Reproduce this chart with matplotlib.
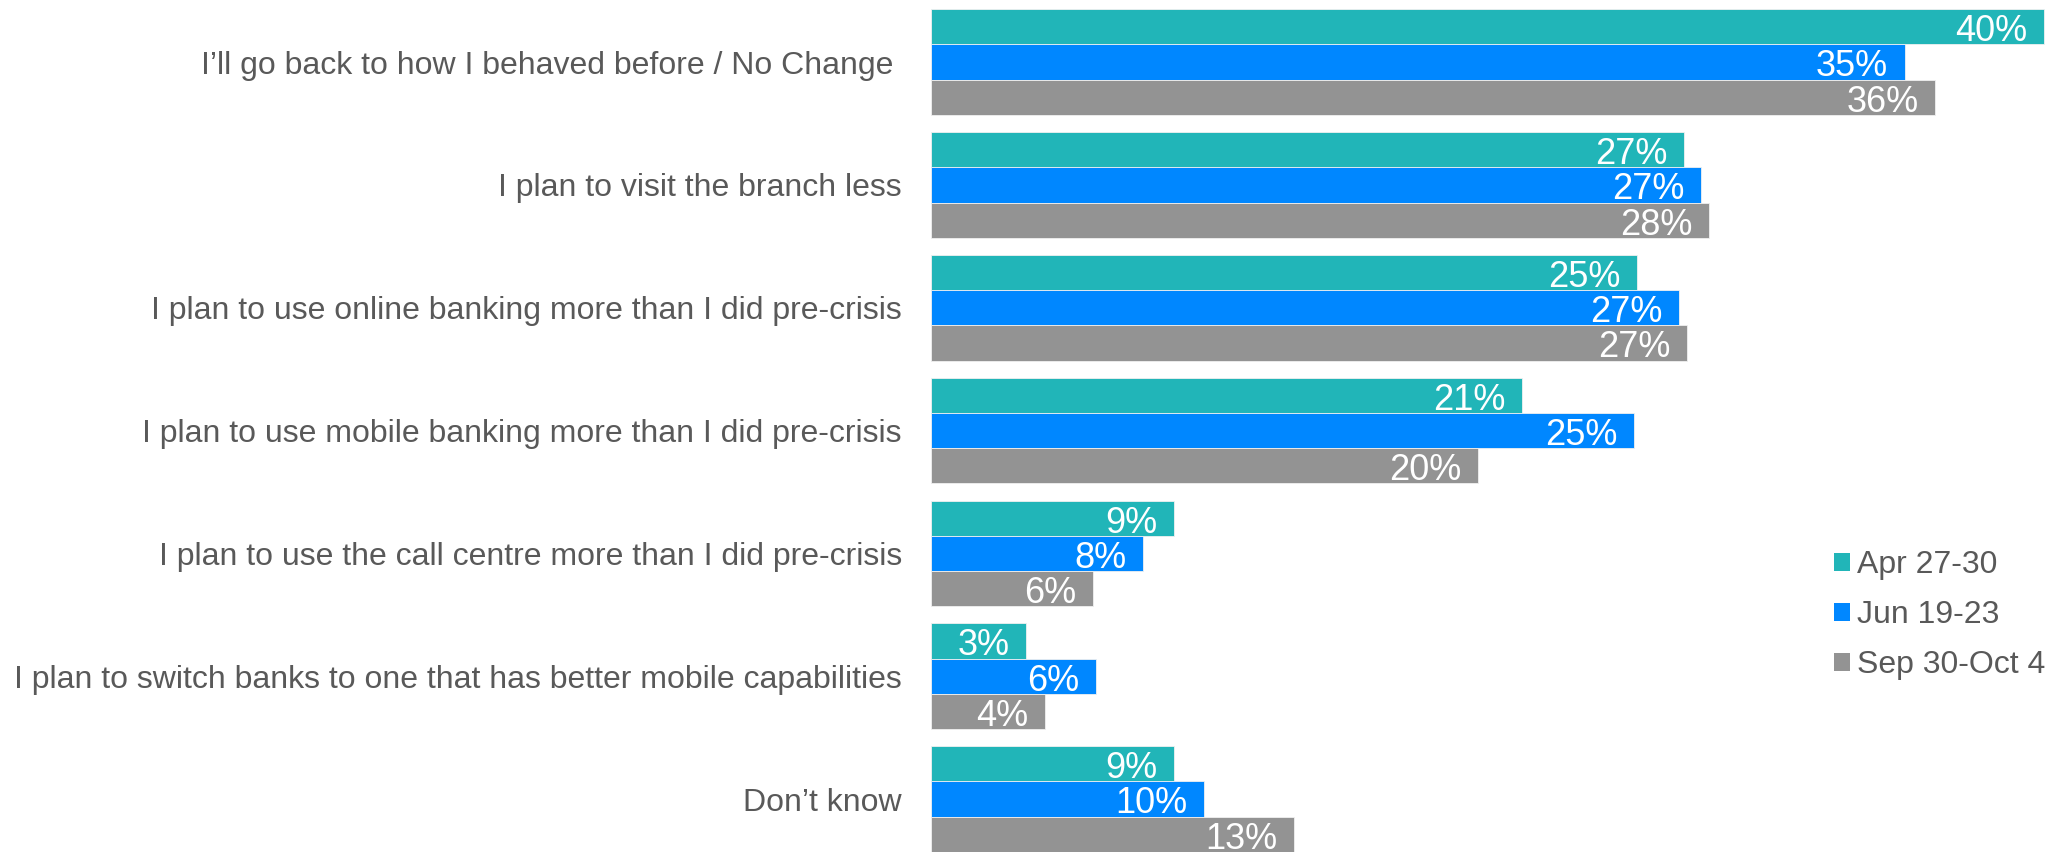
import matplotlib.pyplot as plt
from matplotlib.patches import Patch
import numpy as np

# Survey answers (top to bottom)
categories = [
    "I\u2019ll go back to how I behaved before / No Change ",
    "I plan to visit the branch less",
    "I plan to use online banking more than I did pre-crisis",
    "I plan to use mobile banking more than I did pre-crisis",
    "I plan to use the call centre more than I did pre-crisis",
    "I plan to switch banks to one that has better mobile capabilities",
    "Don\u2019t know",
]
series_names = ["Apr 27-30", "Jun 19-23", "Sep 30-Oct 4"]

# bar lengths (%)
apr_vals = [39.9, 27.0, 25.3, 21.2, 8.7, 3.4, 8.7]
jun_vals = [34.9, 27.6, 26.8, 25.2, 7.6, 5.9, 9.8]
sep_vals = [36.0, 27.9, 27.1, 19.6, 5.8, 4.1, 13.0]

# printed labels
apr_labels = ["40%", "27%", "25%", "21%", "9%", "3%", "9%"]
jun_labels = ["35%", "27%", "27%", "25%", "8%", "6%", "10%"]
sep_labels = ["36%", "28%", "27%", "20%", "6%", "4%", "13%"]

colors = ["#21B5B8", "#0087FF", "#939393"]
text_gray = "#595959"

plt.rcParams['font.family'] = ['Liberation Sans', 'DejaVu Sans']

fig = plt.figure(figsize=(20.61, 8.52), dpi=100)
ax = fig.add_axes([931 / 2061, 0, 1 - 931 / 2061, 1])

h = 0.287
y = np.arange(len(categories))
all_vals = [apr_vals, jun_vals, sep_vals]
all_labels = [apr_labels, jun_labels, sep_labels]
for k, vals in enumerate(all_vals):
    ypos = y + (k - 1) * h
    ax.barh(ypos, vals, height=h, color=colors[k],
            edgecolor="#f0f0f0", linewidth=0.6, label=series_names[k])
    for yy, v, lab in zip(ypos, vals, all_labels[k]):
        ax.annotate(lab, xy=(v, yy), xytext=(-12, -3.5),
                    textcoords="offset points", ha="right", va="center",
                    color="white", fontsize=26)

ax.set_xlim(0, (2061 - 931) / 27.9)
ax.set_ylim(6 + 1.5 * h, -1.5 * h - 0.075)
ax.set_yticks(y)
ax.set_yticklabels(categories, fontsize=23, color=text_gray)
ax.tick_params(axis="y", length=0, pad=21)
ax.set_xticks([])
for s in ax.spines.values():
    s.set_visible(False)

handles = [Patch(facecolor=c, edgecolor="none") for c in colors]
fig.legend(handles, series_names, loc="upper left",
           bbox_to_anchor=(1834 / 2061, 1 - 550 / 852),
           frameon=False, fontsize=23, labelcolor=text_gray,
           handlelength=0.5, handleheight=0.5, handletextpad=0.22,
           labelspacing=0.63, borderaxespad=0, borderpad=0)

fig.savefig("out.png", dpi=100)
